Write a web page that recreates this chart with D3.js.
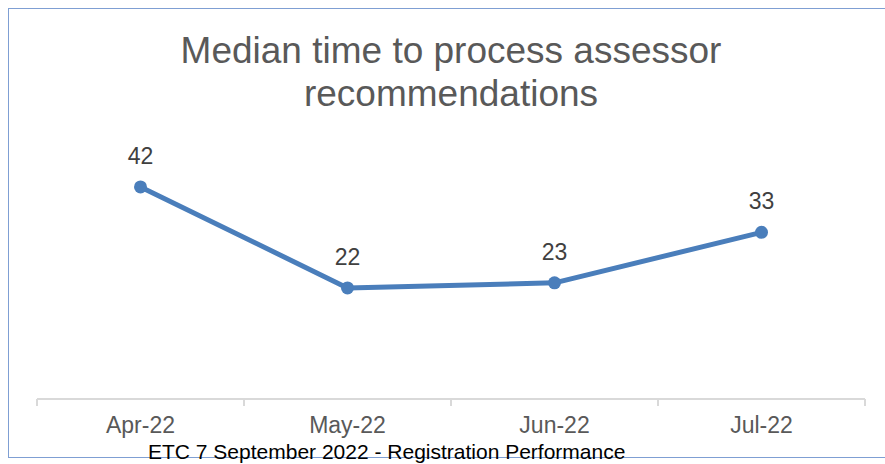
<!DOCTYPE html>
<html>
<head>
<meta charset="utf-8">
<script src="https://cdn.jsdelivr.net/npm/d3@7"></script>
<style>
  body { margin: 0; background: #fff; }
  svg { display: block; font-family: "Liberation Sans", Arial, sans-serif; }
</style>
</head>
<body>
<div id="chart"></div>
<script>
// data
const months = ["Apr-22", "May-22", "Jun-22", "Jul-22"];
const medianDays = [42, 22, 23, 33];
const titleLines = ["Median time to process assessor", "recommendations"];
const footerText = "ETC 7 September 2022 - Registration Performance";

const width = 885, height = 464;

const svg = d3.select("#chart").append("svg")
    .attr("width", width)
    .attr("height", height);

// chart frame
svg.append("rect")
    .attr("x", 8.5)
    .attr("y", 8.5)
    .attr("width", 900)
    .attr("height", 449)
    .attr("fill", "none")
    .attr("stroke", "#7f9fd3")
    .attr("stroke-width", 1);

// title
svg.append("text")
    .attr("x", 451)
    .attr("y", 63)
    .attr("text-anchor", "middle")
    .attr("fill", "#595959")
    .style("font-size", "37px")
    .selectAll("tspan")
    .data(titleLines)
    .join("tspan")
    .attr("x", 451)
    .attr("dy", (d, i) => i === 0 ? 0 : 43)
    .text(d => d);

const x = d3.scaleBand()
    .domain(months)
    .range([37, 865]);

const y = d3.scaleLinear()
    .domain([0, 50])
    .range([399, 399 - 50 * 5.05]);

// x axis
const xAxis = svg.append("g")
    .attr("transform", "translate(0,399)")
    .call(d3.axisBottom(x).tickSize(0).tickPadding(18));
xAxis.select(".domain").remove();
xAxis.selectAll("text")
    .attr("fill", "#595959")
    .style("font-size", "23px")
    .style("font-family", "'Liberation Sans', Arial, sans-serif");

svg.append("line")
    .attr("x1", x.range()[0]).attr("x2", x.range()[1])
    .attr("y1", 399).attr("y2", 399)
    .attr("stroke", "#d9d9d9").attr("stroke-width", 2);

const boundaries = months.map(m => x(m)).concat([x.range()[1]]);
svg.selectAll(".tickmark")
    .data(boundaries)
    .join("line")
    .attr("class", "tickmark")
    .attr("x1", d => d).attr("x2", d => d)
    .attr("y1", 399).attr("y2", 406)
    .attr("stroke", "#d9d9d9").attr("stroke-width", 2);

// line
const pts = months.map((m, i) => ({ m, v: medianDays[i] }));
const cx = d => x(d.m) + x.bandwidth() / 2;

svg.append("path")
    .datum(pts)
    .attr("fill", "none")
    .attr("stroke", "#4a7ebb")
    .attr("stroke-width", 5)
    .attr("stroke-linejoin", "round")
    .attr("d", d3.line().x(cx).y(d => y(d.v)));

svg.selectAll(".dot")
    .data(pts)
    .join("circle")
    .attr("class", "dot")
    .attr("cx", cx)
    .attr("cy", d => y(d.v))
    .attr("r", 6.5)
    .attr("fill", "#4a7ebb");

svg.selectAll(".lbl")
    .data(pts)
    .join("text")
    .attr("class", "lbl")
    .attr("x", cx)
    .attr("y", d => y(d.v) - 23)
    .attr("text-anchor", "middle")
    .attr("fill", "#404040")
    .style("font-size", "23px")
    .text(d => d.v);

// footer
svg.append("text")
    .attr("x", 148)
    .attr("y", 459)
    .attr("fill", "#000")
    .style("font-size", "21px")
    .text(footerText);
</script>
</body>
</html>
